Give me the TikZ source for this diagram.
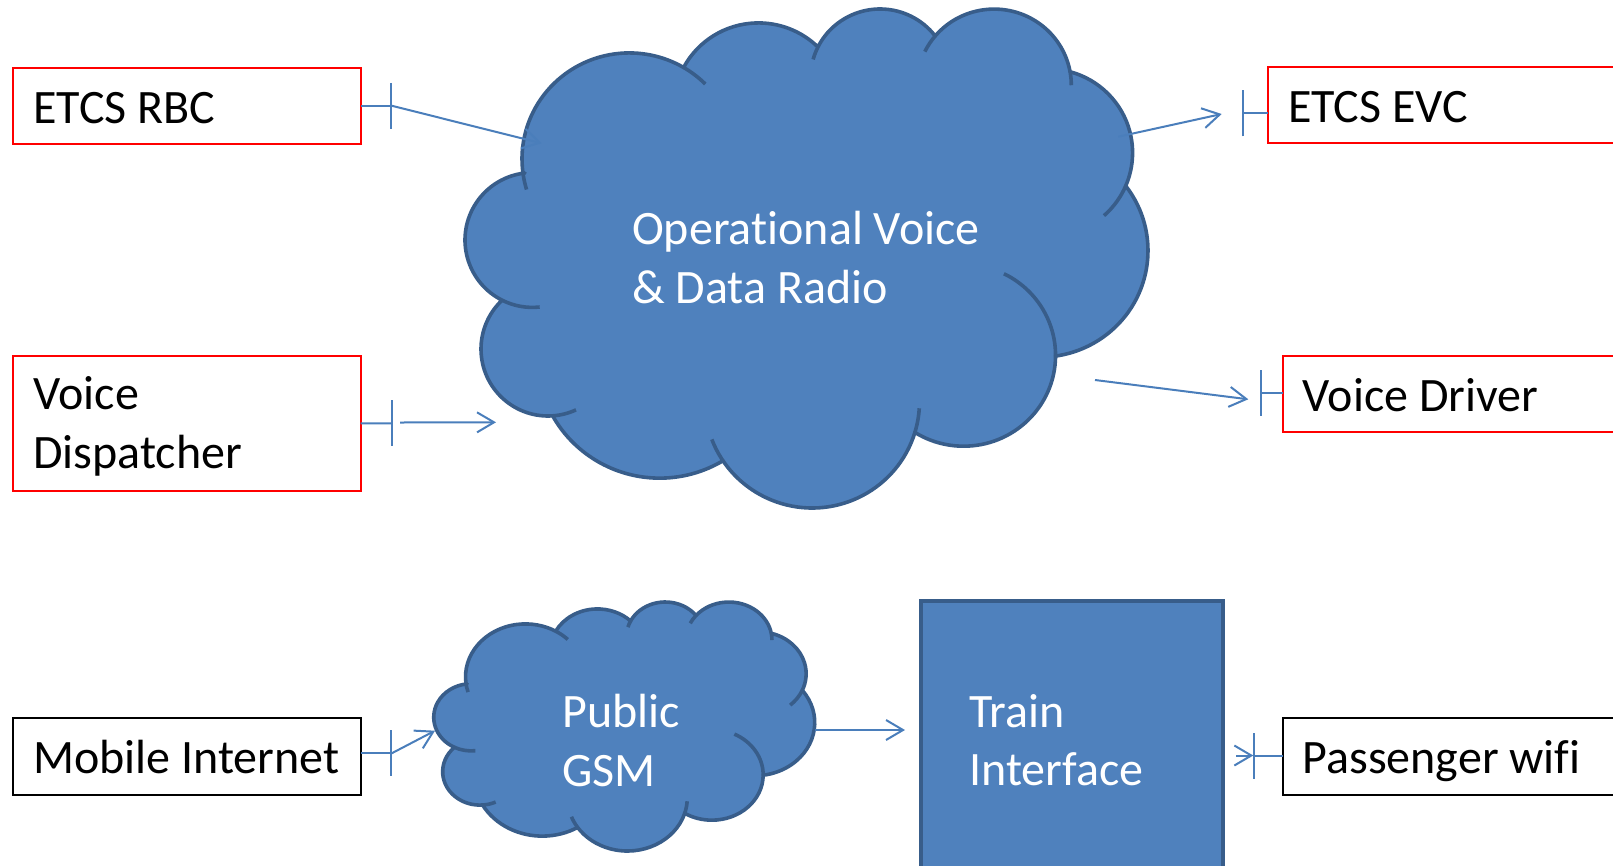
\documentclass[tikz,border=0pt]{standalone}
\usepackage{fontspec}
\setmainfont{Carlito}[Ligatures=NoCommon]
\usetikzlibrary{arrows.meta}
\definecolor{shapefill}{HTML}{4F81BD}
\definecolor{shapeline}{HTML}{385D8A}
\definecolor{linkblue}{HTML}{4A7EBB}
\tikzset{
  cloudbody/.style={fill=shapefill, draw=shapeline, line width=3.6pt, line join=round},
  cloudfold/.style={draw=shapeline, line width=3.6pt},
  % cloud drawn in a 432 x 432 frame, y pointing down
  bumpcloud/.pic={
    \path[cloudbody]
      (39.00,143.70) arc[start angle=172.255,end angle=300.36,x radius=67.53,y radius=91.90]
      -- (140.055,52.025) arc[start angle=-152.03,end angle=-45.46,x radius=53.33,y radius=72.67]
      -- (224.563,34.314) arc[start angle=-153.50,end angle=-37.35,x radius=43.65,y radius=59.45]
      -- (298.329,24.778) arc[start angle=-139.72,end angle=-10.21,x radius=48.57,y radius=65.95]
      -- (383.184,55.725) arc[start angle=-74.77,end angle=23.21,x radius=53.33,y radius=72.73]
      -- (418.189,154.563) arc[start angle=-37.51,end angle=81.86,x radius=67.75,y radius=92.20]
      -- (374.039,301.974) arc[start angle=0.46,end angle=121.98,x radius=57.85,y radius=78.67]
      -- (285.552,368.074) arc[start angle=16.84,end angle=146.23,x radius=67.52,y radius=92.15]
      -- (164.799,392.599) arc[start angle=58.98,end angle=150.7,x radius=77.20,y radius=105.43]
      -- (57.817,353.694) arc[start angle=85.8,end angle=226.8,x radius=42.15,y radius=58.02]
      -- (25.869,253.586) arc[start angle=116.7,end angle=263.7,x radius=42.40,y radius=58.37]
      -- cycle;
    % folds where the bumps overlap
    \draw[cloudfold] (140.055,52.025) arc[start angle=300.36,end angle=315,x radius=67.53,y radius=91.90];
    \draw[cloudfold] (39.00,143.70) arc[start angle=172.255,end angle=163.3,x radius=67.53,y radius=91.90];
    \draw[cloudfold] (25.869,253.586) arc[start angle=116.7,end angle=83.8,x radius=42.40,y radius=58.37];
    \draw[cloudfold] (57.817,353.694) arc[start angle=85.8,end angle=65.3,x radius=42.15,y radius=58.02];
    \draw[cloudfold] (164.799,392.599) arc[start angle=146.23,end angle=159.2,x radius=67.52,y radius=92.15];
    \draw[cloudfold] (285.552,368.074) arc[start angle=16.84,end angle=3.6,x radius=67.52,y radius=92.15];
    \draw[cloudfold] (374.039,301.974) arc[start angle=0.46,end angle=-64,x radius=57.85,y radius=78.67];
    \draw[cloudfold] (418.189,154.563) arc[start angle=23.21,end angle=48.5,x radius=53.33,y radius=72.73];
    \draw[cloudfold] (383.184,55.725) arc[start angle=-10.21,end angle=0,x radius=48.57,y radius=65.95];
    \draw[cloudfold] (298.329,24.778) arc[start angle=-139.72,end angle=-153.8,x radius=48.57,y radius=65.95];
    \draw[cloudfold] (224.563,34.314) arc[start angle=-153.5,end angle=-164.6,x radius=43.65,y radius=59.45];
  },
  framebox/.style={line width=2pt, anchor=north west, inner sep=0pt, outer sep=0pt},
  redbox/.style={framebox, draw=red},
  blackbox/.style={framebox, draw=black},
  trainbox/.style={anchor=north west, inner sep=0pt, outer sep=0pt, fill=shapefill, draw=shapeline, line width=4pt},
  label/.style={anchor=base west, inner sep=0pt, font=\fontsize{48}{58.6}\selectfont},
  whitelabel/.style={label, text=white},
  link/.style={draw=linkblue, line width=2pt},
  head/.style={link, -{Straight Barb[length=17pt,width=20pt]}},
  tick/.style={link, {Bar[width=46pt]}-},
}
\begin{document}
\begin{tikzpicture}[x=1pt,y=-1pt]
\useasboundingbox (0,0) rectangle (1613,865);
\clip (0,0) rectangle (1613,865);

% radio network and public network
\pic[shift={(461,7.4)}, xscale=1.5895, yscale=1.1547] {bumpcloud};
\pic[shift={(431.5,601.2)}, xscale=0.8867, yscale=0.5762] {bumpcloud};
\node[whitelabel] (radio1) at (632,244.5) {Operational Voice};
\node[whitelabel] (radio2) at (632,303.1) {\& Data Radio};
\node[whitelabel] (gsm1) at (562,727.5) {Public};
\node[whitelabel] (gsm2) at (562,786.1) {GSM};

% train interface
\node[trainbox, minimum width=302pt, minimum height=300pt] (train) at (920.5,600.5) {};
\node[whitelabel] (train1) at (969,727.3) {Train};
\node[whitelabel] (train2) at (969,785.9) {Interface};

% end points
\node[redbox, minimum width=348.2pt, minimum height=76.5pt] (rbc) at (12.5,67.5) {};
\node[label] (rbctext) at (33,123) {ETCS RBC};
\node[redbox, minimum width=348.2pt, minimum height=134.7pt] (disp) at (12.5,356) {};
\node[label] (disp1) at (33,409.4) {Voice};
\node[label] (disp2) at (33,468) {Dispatcher};
\node[blackbox, minimum width=348.2pt, minimum height=77.5pt] (mob) at (12.5,717.5) {};
\node[label] (mobtext) at (33,773.5) {Mobile Internet};
\node[redbox, minimum width=450pt, minimum height=76pt] (evc) at (1268.3,67.3) {};
\node[label] (evctext) at (1287.8,122.5) {ETCS EVC};
\node[redbox, minimum width=450pt, minimum height=76pt] (drv) at (1283.3,356) {};
\node[label] (drvtext) at (1302.3,411.3) {Voice Driver};
\node[blackbox, minimum width=450pt, minimum height=77.3pt] (wifi) at (1283.3,717.7) {};
\node[label] (wifitext) at (1302.3,773) {Passenger wifi};

% connectors
\coordinate (rbcT) at (391.7,105.75);
\coordinate (rbcA) at (541.7,143.3);
\draw[tick] (rbcT) -- (rbc.east);
\draw[head] (rbcT) -- (rbcA);

\coordinate (dispT) at (392.7,423.35);
\coordinate (dispS) at (400,422.5);
\coordinate (dispA) at (496,422.3);
\draw[tick] (dispT) -- (disp.east);
\draw[head] (dispS) -- (dispA);

\coordinate (mobT) at (391.7,753.3);
\coordinate (mobA) at (435,730.7);
\draw[tick] (mobT) -- (mobT -| mob.east);
\draw[head] (mobT) -- (mobA);

\coordinate (evcS) at (1118.3,136.7);
\coordinate (evcA) at (1221.7,114);
\coordinate (evcT) at (1241.7,113.3);
\draw[head] (evcS) -- (evcA);
\draw[tick] (evcT) -- (evcT -| evc.west);

\coordinate (drvS) at (1095,380);
\coordinate (drvA) at (1248.3,399.3);
\coordinate (drvT) at (1260,392.7);
\draw[head] (drvS) -- (drvA);
\draw[tick] (drvT) -- (drvT -| drv.west);

\coordinate (gsmS) at (815,730);
\coordinate (trainA) at (905,730);
\draw[head] (gsmS) -- (trainA);

\coordinate (trainS) at (1236,755.5);
\coordinate (wifiT) at (1253.3,755.5);
\draw[head] (trainS) -- (wifiT);
\draw[tick] (wifiT) -- (wifiT -| wifi.west);
\end{tikzpicture}
\end{document}
